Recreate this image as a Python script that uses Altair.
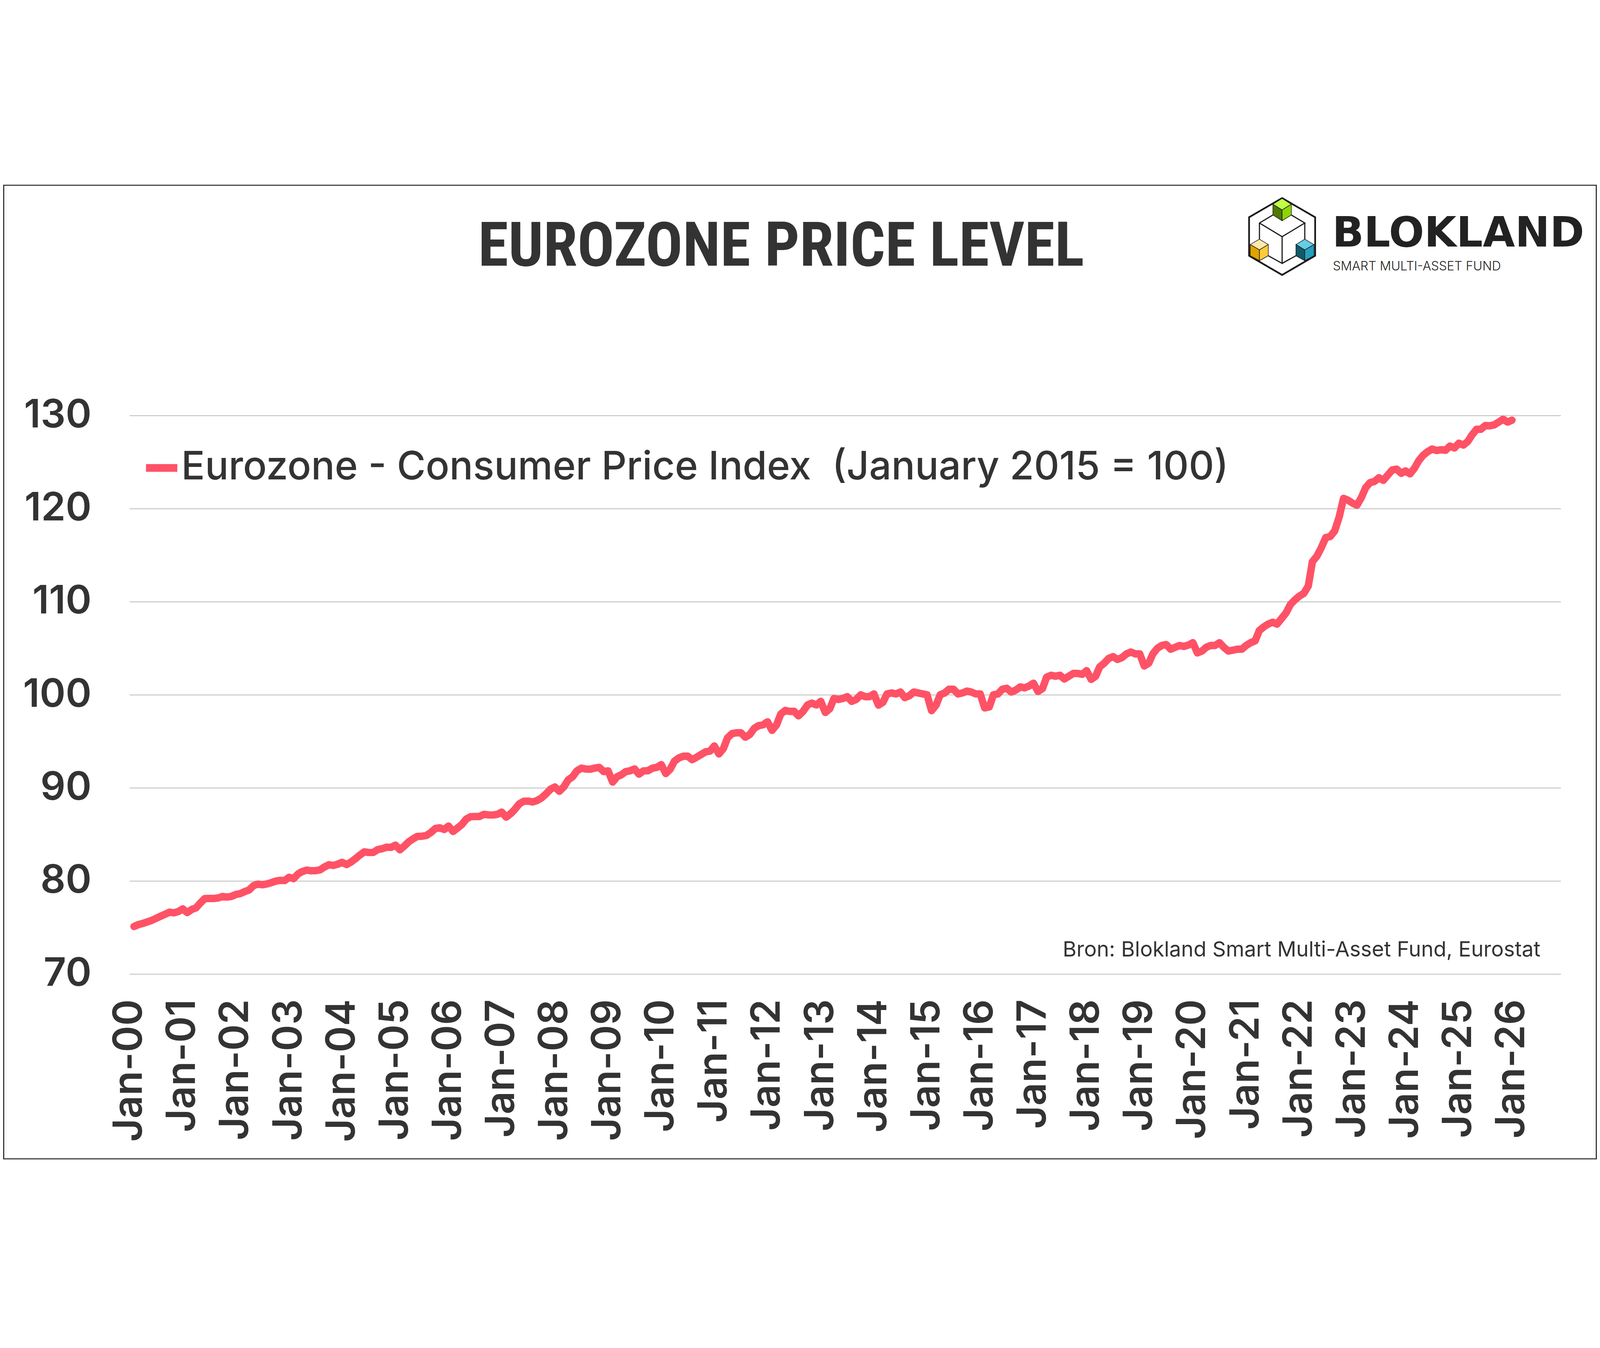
import subprocess
import altair as alt
import pandas as pd

# ---------------- data (monthly index) ----------------
cpi_2000 = [75.11, 75.32, 75.44, 75.60, 75.76, 75.99, 76.21, 76.42, 76.65, 76.58, 76.72, 77.00]
cpi_2001 = [76.61, 76.95, 77.10, 77.64, 78.11, 78.12, 78.12, 78.18, 78.34, 78.27, 78.35, 78.55]
cpi_2002 = [78.65, 78.87, 79.03, 79.50, 79.67, 79.60, 79.68, 79.82, 79.99, 80.07, 80.05, 80.40]
cpi_2003 = [80.25, 80.76, 81.01, 81.17, 81.10, 81.11, 81.19, 81.50, 81.75, 81.67, 81.81, 82.00]
cpi_2004 = [81.77, 82.05, 82.39, 82.79, 83.13, 83.06, 83.06, 83.37, 83.47, 83.63, 83.61, 83.85]
cpi_2005 = [83.35, 83.77, 84.20, 84.53, 84.79, 84.81, 84.89, 85.20, 85.64, 85.72, 85.53, 85.90]
cpi_2006 = [85.32, 85.70, 86.05, 86.64, 86.91, 86.93, 86.93, 87.16, 87.10, 87.09, 87.16, 87.40]
cpi_2007 = [86.86, 87.24, 87.69, 88.29, 88.56, 88.58, 88.49, 88.64, 88.93, 89.35, 89.86, 90.10]
cpi_2008 = [89.64, 90.12, 90.85, 91.20, 91.84, 92.12, 92.03, 92.01, 92.13, 92.21, 91.75, 91.83]
cpi_2009 = [90.63, 91.20, 91.40, 91.75, 91.84, 92.03, 91.48, 91.83, 91.85, 92.12, 92.21, 92.50]
cpi_2010 = [91.54, 92.02, 92.86, 93.22, 93.40, 93.41, 93.03, 93.30, 93.59, 93.87, 93.96, 94.50]
cpi_2011 = [93.65, 94.23, 95.37, 95.83, 95.92, 95.93, 95.45, 95.73, 96.40, 96.69, 96.78, 97.10]
cpi_2012 = [96.18, 96.77, 97.94, 98.32, 98.22, 98.23, 97.74, 98.22, 98.91, 99.11, 98.91, 99.30]
cpi_2013 = [98.10, 98.51, 99.60, 99.50, 99.60, 99.80, 99.30, 99.50, 100.00, 99.80, 99.80, 100.10]
cpi_2014 = [98.89, 99.20, 100.10, 100.20, 100.10, 100.30, 99.70, 99.90, 100.30, 100.20, 100.10, 100.00]
cpi_2015 = [98.30, 98.90, 100.00, 100.20, 100.60, 100.60, 100.10, 100.20, 100.40, 100.30, 100.10, 100.10]
cpi_2016 = [98.59, 98.70, 100.00, 100.10, 100.60, 100.70, 100.30, 100.50, 100.85, 100.75, 100.95, 101.25]
cpi_2017 = [100.36, 100.67, 101.90, 102.10, 102.00, 102.10, 101.70, 102.00, 102.30, 102.30, 102.20, 102.60]
cpi_2018 = [101.66, 102.00, 103.00, 103.40, 103.90, 104.10, 103.80, 104.00, 104.40, 104.60, 104.40, 104.40]
cpi_2019 = [103.10, 103.40, 104.40, 105.00, 105.30, 105.40, 104.90, 105.10, 105.30, 105.20, 105.35, 105.60]
cpi_2020 = [104.50, 104.70, 105.10, 105.30, 105.30, 105.60, 105.10, 104.70, 104.80, 104.90, 104.90, 105.30]
cpi_2021 = [105.60, 105.80, 106.90, 107.30, 107.60, 107.80, 107.60, 108.20, 108.80, 109.70, 110.20, 110.60]
cpi_2022 = [110.90, 111.70, 114.30, 114.90, 115.80, 116.90, 117.00, 117.60, 119.10, 121.10, 120.90, 120.60]
cpi_2023 = [120.37, 121.21, 122.23, 122.80, 122.92, 123.32, 123.04, 123.61, 124.16, 124.24, 123.80, 124.05]
cpi_2024 = [123.74, 124.36, 125.16, 125.75, 126.12, 126.40, 126.24, 126.33, 126.27, 126.72, 126.52, 127.03]
cpi_2025 = [126.83, 127.22, 127.91, 128.52, 128.52, 128.93, 128.90, 129.00, 129.30, 129.60, 129.30, 129.50]

years = list(range(2000, 2026))
series_by_year = [cpi_2000, cpi_2001, cpi_2002, cpi_2003, cpi_2004, cpi_2005, cpi_2006,
                  cpi_2007, cpi_2008, cpi_2009, cpi_2010, cpi_2011, cpi_2012, cpi_2013,
                  cpi_2014, cpi_2015, cpi_2016, cpi_2017, cpi_2018, cpi_2019, cpi_2020,
                  cpi_2021, cpi_2022, cpi_2023, cpi_2024, cpi_2025]

tick_years = list(range(2000, 2027))          # Jan-00 ... Jan-26
y_ticks = [70, 80, 90, 100, 110, 120, 130]

TITLE = "EUROZONE PRICE LEVEL"
SERIES = "Eurozone - Consumer Price Index \u00a0(January 2015 = 100)"
SOURCE = "Bron: Blokland Smart Multi-Asset Fund, Eurostat"
LOGO_NAME = "BLOKLAND"
LOGO_SUB = "SMART MULTI-ASSET FUND"

rows = []
for year, vals in zip(years, series_by_year):
    for month, v in enumerate(vals, start=1):
        rows.append({"date": f"{year}-{month:02d}-01T00:00:00", "cpi": v, "series": SERIES})
df = pd.DataFrame(rows)

TEXT = "#333333"
LINE = "#FF5266"


# ---------------- pick the narrowest installed font for the title ----------------
def installed_families():
    try:
        out = subprocess.run(["fc-list", ":", "family"], capture_output=True, text=True,
                             timeout=20).stdout
    except Exception:
        return set()
    fams = set()
    for ln in out.splitlines():
        for f in ln.split(","):
            fams.add(f.strip())
    return fams


fams = installed_families()
if "Roboto Condensed" in fams:
    title_font, title_size = "Roboto Condensed", 216
elif "Liberation Sans Narrow" in fams:
    title_font, title_size = "Liberation Sans Narrow", 205
else:
    title_font, title_size = "DejaVu Sans Condensed", 176

# ---------------- main line ----------------
line = alt.Chart(df).mark_line(strokeWidth=26, strokeCap="round", strokeJoin="round").encode(
    x=alt.X(
        "date:T", title=None,
        scale=alt.Scale(domain=[alt.DateTime(year=1999, month=12, date=1),
                                alt.DateTime(year=2026, month=11, date=1)]),
        axis=alt.Axis(values=[alt.DateTime(year=y, month=1, date=1) for y in tick_years],
                      format="%b-%y", labelAngle=270, labelAlign="right", labelBaseline="middle",
                      labelPadding=88, labelOffset=-15, ticks=False, domain=False, grid=False,
                      labelFont="Inter", labelFontSize=141, labelFontWeight=600,
                      labelColor=TEXT, labelOverlap=False, labelFlush=False, labelLimit=1000),
    ),
    y=alt.Y(
        "cpi:Q", title=None,
        scale=alt.Scale(domain=[70, 130], nice=False, zero=False),
        axis=alt.Axis(values=y_ticks, ticks=False, domain=False, grid=True,
                      gridColor="#C2C2C2", gridWidth=3, labelPadding=134,
                      labelFont="Inter", labelFontSize=138, labelFontWeight=600,
                      labelColor=TEXT, labelLimit=1000),
    ),
    color=alt.Color(
        "series:N", scale=alt.Scale(range=[LINE]),
        legend=alt.Legend(title=None, orient="none", legendX=44, legendY=115,
                          symbolType="stroke", symbolSize=12100, symbolStrokeWidth=27,
                          labelFont="Inter", labelFontSize=138, labelFontWeight=500,
                          labelColor=TEXT, labelLimit=6000, labelOffset=0, padding=0),
    ),
)

# ---------------- texts ----------------
title = alt.Chart(pd.DataFrame({"label": [TITLE]})).mark_text(
    font=title_font, fontWeight="bold", fontSize=title_size, color=TEXT,
    align="left", baseline="alphabetic",
).encode(text="label:N", x=alt.value(1225), y=alt.value(-527))

source = alt.Chart(pd.DataFrame({"label": [SOURCE]})).mark_text(
    font="Inter", fontSize=74, color=TEXT, align="right", baseline="alphabetic",
).encode(text="label:N", x=alt.value(4958), y=alt.value(1900))

logo_name = alt.Chart(pd.DataFrame({"label": [LOGO_NAME]})).mark_text(
    font="DejaVu Sans", fontWeight="bold", fontSize=146, color="#222222",
    align="left", baseline="alphabetic",
).encode(text="label:N", x=alt.value(4226), y=alt.value(-594))

logo_sub = alt.Chart(pd.DataFrame({"label": [LOGO_SUB]})).mark_text(
    font="Inter", fontWeight=300, fontSize=44, color="#222222",
    align="left", baseline="alphabetic",
).encode(text="label:N", x=alt.value(4228), y=alt.value(-510))

# ---------------- logo icon (custom symbol paths) ----------------
logo_parts = pd.DataFrame({
    "path": [
        "M0,-1L0.86,-0.5L0.86,0.5L0,1L-0.86,0.5L-0.86,-0.5Z",
        "M-0.24,-0.56L-0.59,-0.35L-0.59,0.07M-0.59,-0.35L0,0.005L0.59,-0.35L0.24,-0.56"
        "M0.59,-0.35L0.59,0.07M0,0.005L0,0.7L-0.36,0.5M0,0.7L0.36,0.5",
        "M0,-0.99L0.24,-0.84L0,-0.69L-0.24,-0.84Z",
        "M-0.24,-0.84L0,-0.69L0,-0.41L-0.24,-0.56Z",
        "M0,-0.69L0.24,-0.84L0.24,-0.56L0,-0.41Z",
        "M-0.59,0.07L-0.36,0.21L-0.59,0.35L-0.83,0.21Z",
        "M-0.83,0.21L-0.59,0.35L-0.59,0.63L-0.83,0.5Z",
        "M-0.59,0.35L-0.36,0.21L-0.36,0.5L-0.59,0.63Z",
        "M0.59,0.07L0.83,0.21L0.59,0.35L0.36,0.21Z",
        "M0.36,0.21L0.59,0.35L0.59,0.63L0.36,0.5Z",
        "M0.59,0.35L0.83,0.21L0.83,0.5L0.59,0.63Z",
    ],
    "fill": ["white", "transparent",
             "#BFFF47", "#4E7A00", "#8CD600",
             "#FFE8AD", "#E0A400", "#FFCA3A",
             "#67CCE6", "#125A69", "#229FBF"],
    "sw": [6, 4, 2, 2, 2, 2, 2, 2, 2, 2, 2],
})
logo_icon = alt.Chart(logo_parts).mark_point(filled=True, opacity=1, stroke="#1A1A1A").encode(
    shape=alt.Shape("path:N", scale=None, legend=None),
    fill=alt.Fill("fill:N", scale=None, legend=None),
    strokeWidth=alt.StrokeWidth("sw:Q", scale=None, legend=None),
    x=alt.value(4050), y=alt.value(-629), size=alt.value(72900),
)

# ---------------- outer frame (defines the whole picture area) ----------------
frame = alt.Chart(pd.DataFrame({"k": [0]})).mark_rect(
    fill="transparent", stroke="#333333", strokeWidth=4,
).encode(x=alt.value(-442), x2=alt.value(5154), y=alt.value(-809), y2=alt.value(2611))

chart = alt.layer(frame, line, title, source, logo_icon, logo_name, logo_sub).properties(
    width=5029, height=1962, padding=0,
).configure(background="white").configure_view(strokeWidth=0)

chart.save("out.html", embed_options={"renderer": "svg", "actions": False})
